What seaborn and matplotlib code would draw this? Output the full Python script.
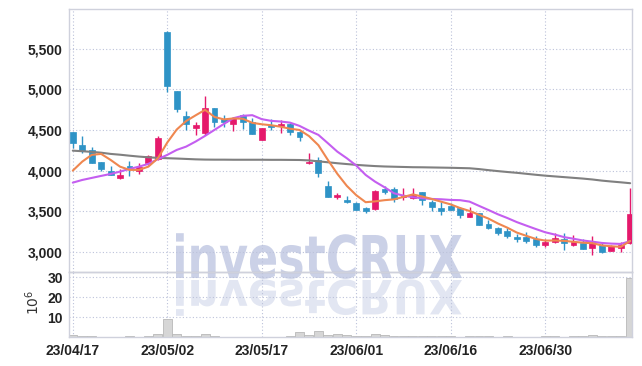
import numpy as np
import pandas as pd
import matplotlib
matplotlib.use('Agg')
import matplotlib.pyplot as plt
import seaborn as sns
from matplotlib.textpath import TextPath
from matplotlib.patches import PathPatch
from matplotlib.font_manager import FontProperties
from matplotlib.transforms import Affine2D
from matplotlib.ticker import FuncFormatter

# daily candles (KRW), trading days 23/04/17 .. 23/07/13
opens = [4473, 4316, 4254, 4106, 3999, 3913, 4061, 3999, 4098, 4140,
         5710, 4982, 4674, 4529, 4468, 4769, 4637, 4571, 4686, 4604,
         4378, 4563, 4554, 4575, 4480, 4090, 4131, 3810, 3680, 3638,
         3604, 3543, 3523, 3770, 3770, 3671, 3658, 3733, 3609, 3543,
         3564, 3543, 3432, 3474, 3342, 3292, 3259, 3185, 3185, 3153,
         3083, 3123, 3157, 3083, 3111, 3049, 3083, 3012, 3041, 3103]
highs = [4480, 4427, 4295, 4110, 4057, 4024, 4122, 4098, 4190, 4427,
         5715, 4985, 4735, 4596, 4920, 4770, 4686, 4660, 4700, 4645,
         4525, 4633, 4620, 4580, 4485, 4214, 4172, 3876, 3728, 3687,
         3610, 3550, 3760, 3810, 3794, 3782, 3782, 3740, 3634, 3609,
         3597, 3550, 3555, 3480, 3391, 3300, 3288, 3218, 3247, 3193,
         3153, 3227, 3227, 3206, 3153, 3193, 3110, 3085, 3123, 3789]
lows = [4275, 4221, 4090, 3999, 3945, 3900, 3934, 3958, 4070, 4135,
        4973, 4727, 4501, 4439, 4439, 4534, 4534, 4492, 4510, 4445,
        4375, 4501, 4460, 4440, 4369, 4085, 3918, 3675, 3646, 3605,
        3510, 3474, 3515, 3715, 3617, 3638, 3650, 3576, 3502, 3453,
        3510, 3419, 3430, 3325, 3285, 3210, 3165, 3123, 3103, 3054,
        3054, 3103, 3021, 3070, 3030, 2959, 2980, 3005, 3000, 3100]
closes = [4344, 4242, 4098, 4024, 3950, 3950, 4016, 4048, 4184, 4406,
          5047, 4764, 4579, 4563, 4769, 4604, 4604, 4653, 4604, 4448,
          4522, 4542, 4571, 4470, 4418, 4110, 3974, 3678, 3699, 3609,
          3514, 3506, 3752, 3740, 3646, 3687, 3699, 3634, 3555, 3502,
          3514, 3453, 3481, 3329, 3288, 3234, 3193, 3153, 3132, 3083,
          3123, 3173, 3111, 3116, 3033, 3103, 3000, 3070, 3083, 3461]

# moving average lines
ma_short = [3999, 4110, 4193, 4205, 4131, 4048, 4008, 4008, 4048, 4150,
            4345, 4505, 4610, 4680, 4748, 4660, 4630, 4642, 4638, 4588,
            4570, 4558, 4540, 4515, 4500, 4425, 4312, 4131, 3960, 3812,
            3697, 3610, 3620, 3635, 3645, 3675, 3706, 3680, 3650, 3616,
            3583, 3538, 3502, 3455, 3408, 3348, 3296, 3236, 3196, 3158,
            3137, 3138, 3134, 3122, 3111, 3105, 3078, 3067, 3060, 3133]
ma_mid = [3851, 3884, 3909, 3934, 3958, 3987, 4020, 4048, 4082, 4140,
          4193, 4254, 4295, 4357, 4427, 4501, 4575, 4645, 4674, 4682,
          4633, 4612, 4604, 4590, 4550, 4492, 4439, 4337, 4233, 4152,
          4062, 3946, 3863, 3794, 3720, 3691, 3671, 3659, 3650, 3646,
          3638, 3635, 3617, 3565, 3514, 3461, 3415, 3365, 3322, 3280,
          3240, 3212, 3180, 3160, 3138, 3124, 3108, 3100, 3096, 3130]
ma_long = [4245, 4238, 4230, 4220, 4205, 4195, 4183, 4172, 4163, 4156,
           4152, 4148, 4143, 4138, 4135, 4134, 4134, 4133, 4133, 4133,
           4133, 4132, 4132, 4131, 4130, 4125, 4113, 4102, 4090, 4080,
           4070, 4062, 4055, 4050, 4047, 4044, 4041, 4040, 4038, 4036,
           4034, 4031, 4028, 4018, 4005, 3993, 3982, 3972, 3960, 3948,
           3937, 3928, 3919, 3910, 3901, 3890, 3876, 3865, 3855, 3844]

# volume in millions of shares
volume = [1.2, 0.6, 0.5, 0.2, 0.2, 0.3, 0.5, 0.3, 0.6, 1.6,
          9.2, 1.5, 0.6, 0.5, 1.5, 0.7, 0.3, 0.2, 0.2, 0.3,
          0.4, 0.2, 0.4, 0.6, 2.7, 1.4, 3.0, 1.3, 1.5, 1.0,
          0.9, 0.6, 1.6, 1.2, 0.8, 0.7, 0.6, 0.9, 0.8, 0.8,
          0.5, 0.4, 0.6, 0.9, 0.5, 0.4, 0.6, 0.4, 0.3, 0.4,
          0.5, 0.9, 0.4, 0.5, 0.9, 1.1, 0.9, 0.5, 0.8, 29.6]

tick_pos = [0, 10, 20, 30, 40, 50]
tick_labels = ['23/04/17', '23/05/02', '23/05/17', '23/06/01', '23/06/16', '23/06/30']

RED = '#e5196b'
BLUE = '#2e93c6'
GRID = '#bcc2da'
SPINE = '#cfd1dc'

sns.set_style('white')
plt.rcParams['font.family'] = ['Liberation Sans', 'DejaVu Sans']

df = pd.DataFrame({'i': np.arange(len(closes)), 'open': opens, 'high': highs,
                   'low': lows, 'close': closes, 'ma_short': ma_short,
                   'ma_mid': ma_mid, 'ma_long': ma_long, 'volume': volume})
df['up'] = df['close'] >= df['open']
df['color'] = np.where(df['up'], RED, BLUE)

fig = plt.figure(figsize=(6.42, 3.66), dpi=100)
ax = fig.add_axes([0.1075, 0.2568, 0.877, 0.7186])
axv = fig.add_axes([0.1075, 0.0784, 0.877, 0.1784])
for a in (ax, axv):
    a.set_facecolor('none')

# watermark with its reflection (heavy font squeezed to the original's shape)
fp = FontProperties(family='DejaVu Sans', weight='bold')
tp = TextPath((0, 0), 'investCRUX', size=100, prop=fp)
bb = tp.get_extents()
sx = 286 / bb.width
sy = 43 / 72.9
main_tr = Affine2D().translate(-bb.x0, 0).scale(sx, sy).translate(176, 88)
refl_tr = Affine2D().translate(-bb.x0, 0).scale(sx, -sy * 0.8).translate(176, 86)
fig.add_artist(PathPatch(tp, transform=refl_tr, facecolor='#e2e6f2', edgecolor='none', zorder=-2))
fig.add_artist(PathPatch(tp, transform=main_tr, facecolor='#cbd1e7', edgecolor='none', zorder=-2))

# candles
ax.vlines(df['i'], df['low'], df['high'], colors=df['color'], linewidth=1.0, zorder=2)
ax.bar(df['i'], (df['close'] - df['open']).abs().clip(lower=12),
       bottom=df[['open', 'close']].min(axis=1), width=0.62,
       color=df['color'], edgecolor=df['color'], linewidth=0.5, zorder=3)

# moving averages
sns.lineplot(data=df, x='i', y='ma_long', color='#808080', lw=1.5, ax=ax, zorder=4)
sns.lineplot(data=df, x='i', y='ma_mid', color='#c45ef0', lw=1.5, ax=ax, zorder=5)
sns.lineplot(data=df, x='i', y='ma_short', color='#ef8750', lw=1.5, ax=ax, zorder=6)

# volume
sns.barplot(data=df, x='i', y='volume', native_scale=True, color='#d6d6d6',
            edgecolor='#b8b8b8', linewidth=0.6, width=0.95, saturation=1, ax=axv)

ax.set_xlim(-0.4, 59.2)
axv.set_xlim(-0.4, 59.2)
ax.set_ylim(2750, 5990)
axv.set_ylim(0, 32.6)

ax.set_yticks([3000, 3500, 4000, 4500, 5000, 5500])
ax.yaxis.set_major_formatter(FuncFormatter(lambda v, p: f'{v:,.0f}'))
ax.set_xticks(tick_pos)
ax.set_xticklabels([])
axv.set_yticks([10, 20, 30])
axv.set_xticks(tick_pos)
axv.set_xticklabels(tick_labels)

for a in (ax, axv):
    a.set_xlabel('')
    a.set_ylabel('')
    a.grid(True, linestyle=(0, (1, 2)), color=GRID, linewidth=0.8)
    a.tick_params(length=0, labelsize=10, labelcolor='#222222', pad=4.5)
    for lab in a.get_xticklabels() + a.get_yticklabels():
        lab.set_fontweight('bold')
    for s in a.spines.values():
        s.set_visible(True)
        s.set_color(SPINE)
        s.set_linewidth(1.0)
ax.spines['bottom'].set_color('#c4c4c8')

fig.text(32.5 / 642, 1 - 302 / 366, r'$10^6$', rotation=90, ha='center', va='center',
         fontsize=10, color='#333333')

fig.savefig('out.png', dpi=100, facecolor='white')
